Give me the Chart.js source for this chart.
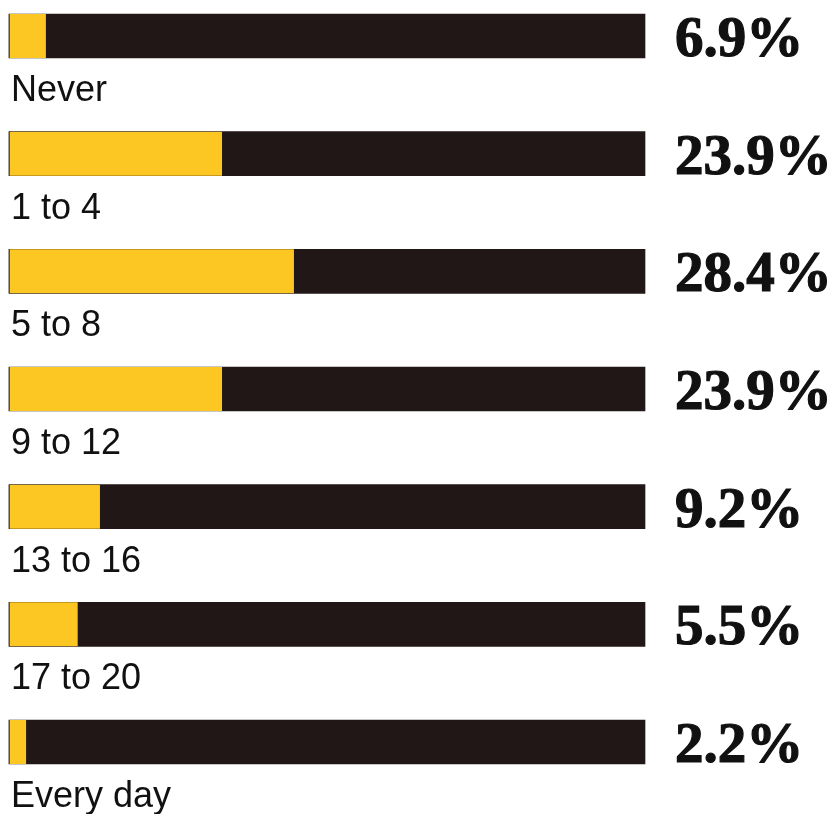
<!doctype html>
<html lang="en">
<head>
  <meta charset="utf-8" />
  <title>How often</title>
  <script src="https://cdn.jsdelivr.net/npm/chart.js@4/dist/chart.umd.min.js"></script>
  <style>
    body { margin: 0; background: #ffffff; }
    #canva { position: relative; width: 837px; height: 814px; }
  </style>
</head>
<body>
<div id="canva"><canvas id="myChart"></canvas></div>

<script>
// answer categories, top to bottom
var categories = ['Never', '1 to 4', '5 to 8', '9 to 12', '13 to 16', '17 to 20', 'Every day'];
// printed share of respondents, in %
var shares = [6.9, 23.9, 28.4, 23.9, 9.2, 5.5, 2.2];
// length of the yellow part (% of the dark track)
var barFill = [5.8, 33.5, 44.8, 33.5, 14.3, 10.8, 2.7];
// the dark track is always full length
var trackMax = [100, 100, 100, 100, 100, 100, 100];

var YELLOW = '#fdc723';
var DARK = '#201716';

// category name under each bar, share to the right of it
const textPlugin = {
  id: 'textPlugin',
  afterDatasetsDraw(chart) {
    const ctx = chart.ctx;
    const y = chart.scales.y;
    const x = chart.scales.x;
    ctx.save();
    ctx.fillStyle = '#111111';
    ctx.strokeStyle = '#111111';
    ctx.textBaseline = 'alphabetic';
    ctx.textAlign = 'left';
    for (let i = 0; i < categories.length; i++) {
      const cy = y.getPixelForValue(i);
      ctx.font = '36px "Liberation Sans", Arial, sans-serif';
      ctx.fillText(categories[i], x.getPixelForValue(0) + 2, cy + 65);
      ctx.font = 'bold 57px "Liberation Serif", "Times New Roman", serif';
      ctx.lineWidth = 1.2;
      const txt = shares[i].toFixed(1) + '%';
      ctx.fillText(txt, x.getPixelForValue(100) + 30, cy + 20);
      ctx.strokeText(txt, x.getPixelForValue(100) + 30, cy + 20);
    }
    ctx.restore();
  }
};

const ctx = document.getElementById('myChart');
const myChart = new Chart(ctx, {
  type: 'bar',
  data: {
    labels: categories,
    datasets: [{
      label: 'share',
      data: barFill,
      backgroundColor: YELLOW,
      borderColor: DARK,
      borderWidth: {left: 1, right: 0, top: 0, bottom: 0},
      borderSkipped: false,
      barThickness: 44,
      grouped: false,
      order: 0,
      clip: false,
    },
    {
      label: 'track',
      data: trackMax,
      backgroundColor: DARK,
      borderWidth: 0,
      barThickness: 44,
      grouped: false,
      order: 1,
      clip: false,
    }]
  },
  options: {
    indexAxis: 'y',
    responsive: true,
    maintainAspectRatio: false,
    animation: false,
    layout: {
      padding: {top: 36, bottom: 72, left: 9, right: 192}
    },
    plugins: {
      legend: {display: false},
      tooltip: {enabled: false},
      title: {display: false}
    },
    scales: {
      x: {
        type: 'linear',
        min: 0,
        max: 100,
        display: false
      },
      y: {
        type: 'category',
        offset: false,
        display: false,
        grid: {display: false}
      }
    }
  },
  plugins: [textPlugin]
});
</script>
</body>
</html>
